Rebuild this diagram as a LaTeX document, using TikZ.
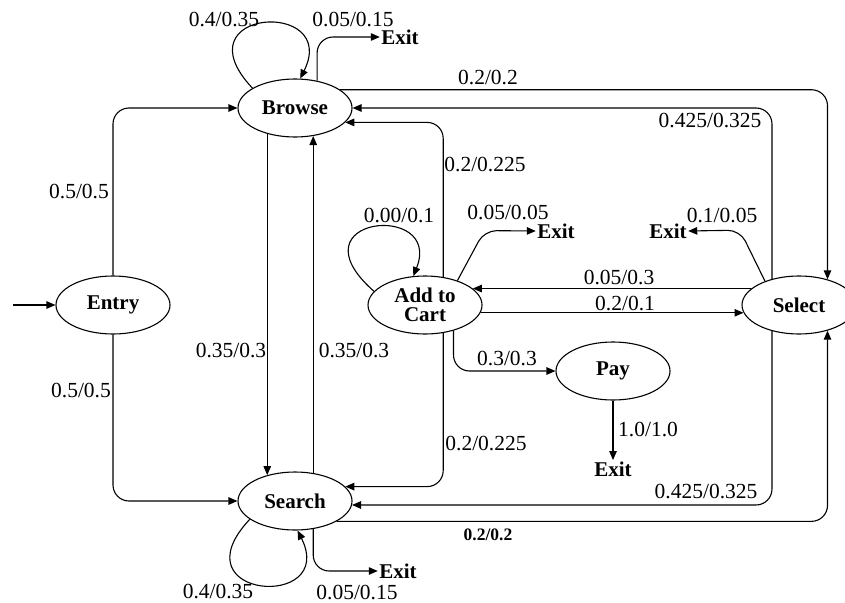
\documentclass[tikz,border=0pt]{standalone}
\usepackage{fontspec}
\setmainfont{Liberation Serif}
\usetikzlibrary{arrows.meta,shapes.geometric}
\begin{document}
\begin{tikzpicture}[x=1pt,y=-1pt,
  line width=1.1pt,
  state/.style={ellipse,draw,minimum width=114pt,minimum height=58pt,inner sep=0pt,
    align=center,font=\fontsize{21}{19}\selectfont\bfseries},
  exitnode/.style={inner sep=1pt,font=\fontsize{21}{23}\selectfont\bfseries},
  lbl/.style={inner sep=0pt,font=\fontsize{21.5}{23}\selectfont},
  blbl/.style={inner sep=0pt,font=\fontsize{17.5}{19}\selectfont\bfseries},
  arr/.style={-{Triangle[length=9pt,width=7.5pt]}},
  rc/.style={rounded corners=16pt}]
\useasboundingbox (0,0) rectangle (845,602);

% states
\node[state] (entry)  at (113,305) {Entry};
\node[state] (browse) at (295,108) {Browse};
\node[state] (search) at (295,501) {Search};
\node[state] (cart)   at (425,305) {Add to\\Cart};
\node[state] (select) at (799,305) {Select};
\node[state] (pay)    at (613,371) {Pay};

% exits
\node[exitnode] (exB)   at (400,37)  {Exit};
\node[exitnode] (exS)   at (398,571) {Exit};
\node[exitnode] (exC)   at (556,231) {Exit};
\node[exitnode] (exSel) at (668,231) {Exit};
\node[exitnode] (exP)   at (613,469) {Exit};

\coordinate (start) at (13,305);

% connectors
\draw[arr] (start) -- (entry.west);
\draw[arr,rc] (entry.north) |- (browse.west);
\draw[arr,rc] (entry.south) |- (search.west);

\draw[arr] (browse.155) .. controls +(-75,-80) and +(40,-80) .. (browse.80);
\draw[arr,rc] (browse.51) |- (exB.west);
\draw[arr] (browse.-137) -- (search.137);
\draw[arr] (search.57) -- (browse.-57);

\draw[arr] (search.-158) .. controls +(-75,80) and +(40,80) .. (search.-85);
\draw[arr,rc] (search.-57) |- (exS.west);

\draw[arr,rc] (browse.22) -| (select.42);
\draw[arr,rc] (select.136) |- (browse.east);
\draw[arr,rc] (cart.57) |- (browse.-16);
\draw[arr,rc] (cart.-57) |- (search.16);
\draw[arr,rc] (select.-136) |- (search.-4);
\draw[arr,rc] (search.-26) -| (select.-42);

\draw[arr] (cart.165) .. controls +(-85,-75) and +(30,-75) .. (cart.112);
\draw[arr,rounded corners=12pt] (cart.37) -- ++(27,-50) -- (exC.west);
\draw[arr,rounded corners=12pt] (select.145) -- ++(-25,-51) -- (exSel.east);
\draw[arr] (select.161) -- (cart.19);
\draw[arr] (cart.-8) -- (select.-172);
\draw[arr,rc] (cart.-42) |- (pay.west);
\draw[arr] (pay.south) -- (exP.north);

% labels
\node[lbl] (l1)  at (224,20)  {0.4/0.35};
\node[lbl] (l2)  at (353,20)  {0.05/0.15};
\node[lbl] (l3)  at (488,78)  {0.2/0.2};
\node[lbl] (l4)  at (710,121) {0.425/0.325};
\node[lbl] (l5)  at (485,165) {0.2/0.225};
\node[lbl] (l6)  at (79,192)  {0.5/0.5};
\node[lbl] (l7)  at (399,216) {0.00/0.1};
\node[lbl] (l8)  at (508,213) {0.05/0.05};
\node[lbl] (l9)  at (722,216) {0.1/0.05};
\node[lbl] (l10) at (619,277) {0.05/0.3};
\node[lbl] (l11) at (625,303) {0.2/0.1};
\node[lbl] (l12) at (231,350) {0.35/0.3};
\node[lbl] (l13) at (354,350) {0.35/0.3};
\node[lbl] (l14) at (507,358) {0.3/0.3};
\node[lbl] (l15) at (81,390)  {0.5/0.5};
\node[lbl] (l16) at (648,429) {1.0/1.0};
\node[lbl] (l17) at (486,443) {0.2/0.225};
\node[lbl] (l18) at (706,491) {0.425/0.325};
\node[blbl] (l19) at (488,535) {0.2/0.2};
\node[lbl] (l20) at (218,591) {0.4/0.35};
\node[lbl] (l21) at (357,592) {0.05/0.15};
\end{tikzpicture}
\end{document}
